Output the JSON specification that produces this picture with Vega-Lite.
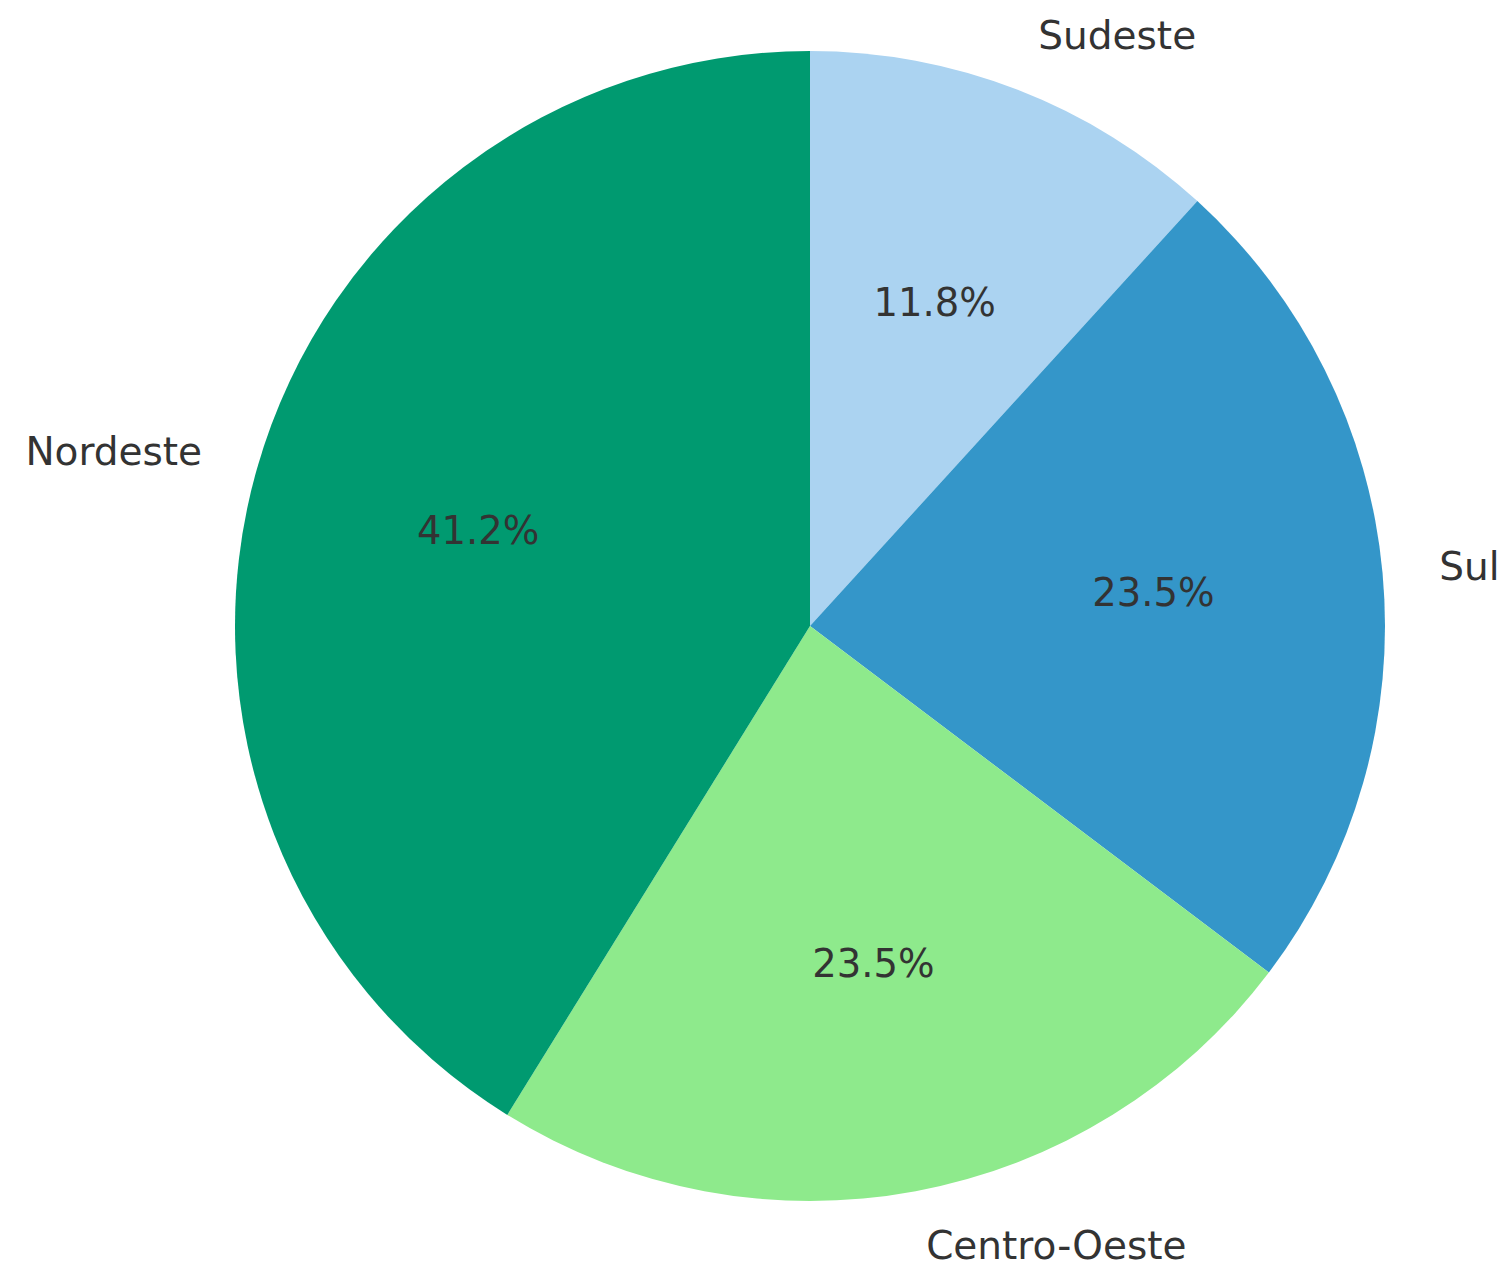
{
  "$schema": "https://vega.github.io/schema/vega-lite/v6.json",
  "width": 1378,
  "height": 1252,
  "autosize": "none",
  "padding": {"left": 121, "top": 0, "right": 0, "bottom": 13},
  "background": "white",
  "view": {"stroke": null},
  "data": {
    "values": [
      {"region": "Sudeste", "count": 2, "ord": 1, "pct": "11.8%"},
      {"region": "Sul", "count": 4, "ord": 2, "pct": "23.5%"},
      {"region": "Centro-Oeste", "count": 4, "ord": 3, "pct": "23.5%"},
      {"region": "Nordeste", "count": 7, "ord": 4, "pct": "41.2%"}
    ]
  },
  "encoding": {
    "theta": {"field": "count", "type": "quantitative", "stack": true},
    "order": {"field": "ord", "type": "quantitative"}
  },
  "layer": [
    {
      "mark": {"type": "arc", "outerRadius": 575},
      "encoding": {
        "color": {
          "field": "region",
          "type": "nominal",
          "scale": {
            "domain": ["Sudeste", "Sul", "Centro-Oeste", "Nordeste"],
            "range": ["#abd3f1", "#3496c9", "#8eea8c", "#009a70"]
          },
          "legend": null
        }
      }
    },
    {
      "mark": {"type": "text", "radius": 345, "font": "DejaVu Sans", "fontSize": 38.5, "color": "#333333", "align": "center", "baseline": "middle"},
      "encoding": {"text": {"field": "pct", "type": "nominal"}}
    },
    {
      "mark": {"type": "text", "radius": 632, "font": "DejaVu Sans", "fontSize": 39, "color": "#333333", "align": "left", "baseline": "middle"},
      "encoding": {
        "text": {"condition": {"test": "datum.region !== 'Nordeste'", "field": "region"}, "value": ""}
      }
    },
    {
      "mark": {"type": "text", "radius": 632, "font": "DejaVu Sans", "fontSize": 39, "color": "#333333", "align": "right", "baseline": "middle"},
      "encoding": {
        "text": {"condition": {"test": "datum.region === 'Nordeste'", "field": "region"}, "value": ""}
      }
    }
  ]
}
